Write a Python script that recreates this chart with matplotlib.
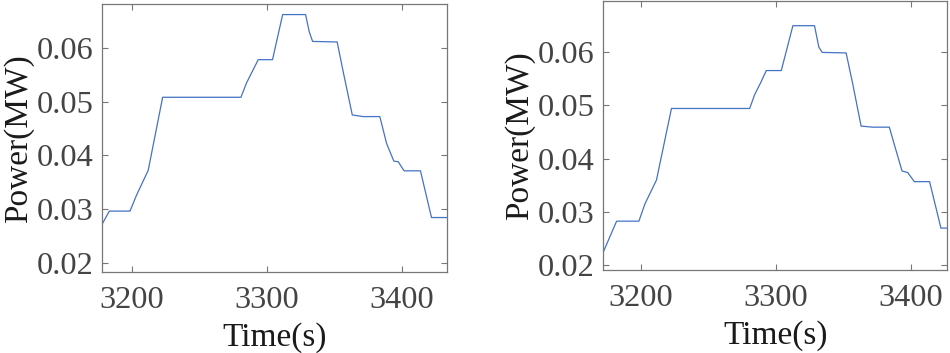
import matplotlib.pyplot as plt

# left panel
t_left = [3177.8, 3183.5, 3198.8, 3203.7, 3212.3, 3223.0, 3281.0, 3285.2, 3289.6,
          3293.8, 3304.4, 3311.9, 3328.9, 3331.6, 3334.1, 3352.3, 3356.8, 3363.5,
          3371.6, 3383.9, 3388.9, 3394.3, 3397.5, 3401.9, 3414.0, 3422.2, 3434.0]
p_left = [0.0270, 0.0296, 0.0296, 0.0326, 0.0372, 0.0508, 0.0508, 0.0535, 0.0557,
          0.0578, 0.0578, 0.0662, 0.0662, 0.0630, 0.0612, 0.0611, 0.0555, 0.0475,
          0.0472, 0.0472, 0.0422, 0.0389, 0.0388, 0.0371, 0.0371, 0.0284, 0.0284]

# right panel
t_right = [3172.4, 3182.3, 3198.8, 3203.2, 3211.8, 3222.9, 3280.8, 3284.5, 3288.9,
           3293.1, 3304.2, 3312.8, 3328.8, 3332.0, 3334.5, 3352.2, 3357.1, 3363.3,
           3371.9, 3384.2, 3388.4, 3393.6, 3397.8, 3402.7, 3414.0, 3422.4, 3427.8]
p_right = [0.0225, 0.0283, 0.0283, 0.0315, 0.0360, 0.0494, 0.0494, 0.0520, 0.0542,
           0.0565, 0.0565, 0.0649, 0.0649, 0.0609, 0.0599, 0.0598, 0.0540, 0.0461,
           0.0459, 0.0459, 0.0422, 0.0377, 0.0374, 0.0357, 0.0357, 0.0270, 0.0270]

x_ticks = [3200, 3300, 3400]
y_ticks = [0.02, 0.03, 0.04, 0.05, 0.06]

plt.rcParams['font.family'] = ['Liberation Serif', 'DejaVu Serif']

fig = plt.figure(figsize=(9.5, 3.53), dpi=100)
ax1 = fig.add_axes([0.107, 0.2286, 0.364, 0.759])
ax2 = fig.add_axes([0.635, 0.2343, 0.362, 0.764])


def style(ax, t, p, xlim, ylim):
    ax.plot(t, p, color='#4472C4', lw=0.9)
    ax.set_xlim(xlim)
    ax.set_ylim(ylim)
    ax.set_xticks(x_ticks)
    ax.set_yticks(y_ticks)
    ax.set_yticklabels(['%.2f' % v for v in y_ticks])
    ax.tick_params(direction='in', top=True, right=True, length=4, width=0.8,
                   color='#777777', labelsize=23.3, labelcolor='#444444')
    ax.tick_params(axis='x', pad=10)
    ax.tick_params(axis='y', pad=6)
    for s in ax.spines.values():
        s.set_color('#777777')
        s.set_linewidth(0.9)
    ax.set_xlabel('Time(s)', fontsize=24, color='#1a1a1a', labelpad=5)
    ax.set_ylabel('Power(MW)', fontsize=24, color='#1a1a1a', labelpad=2)


style(ax1, t_left, p_left, (3177.8, 3434), (0.0182, 0.0681))
style(ax2, t_right, p_right, (3172.4, 3427), (0.0191, 0.0696))

fig.savefig('out.png', dpi=100)
